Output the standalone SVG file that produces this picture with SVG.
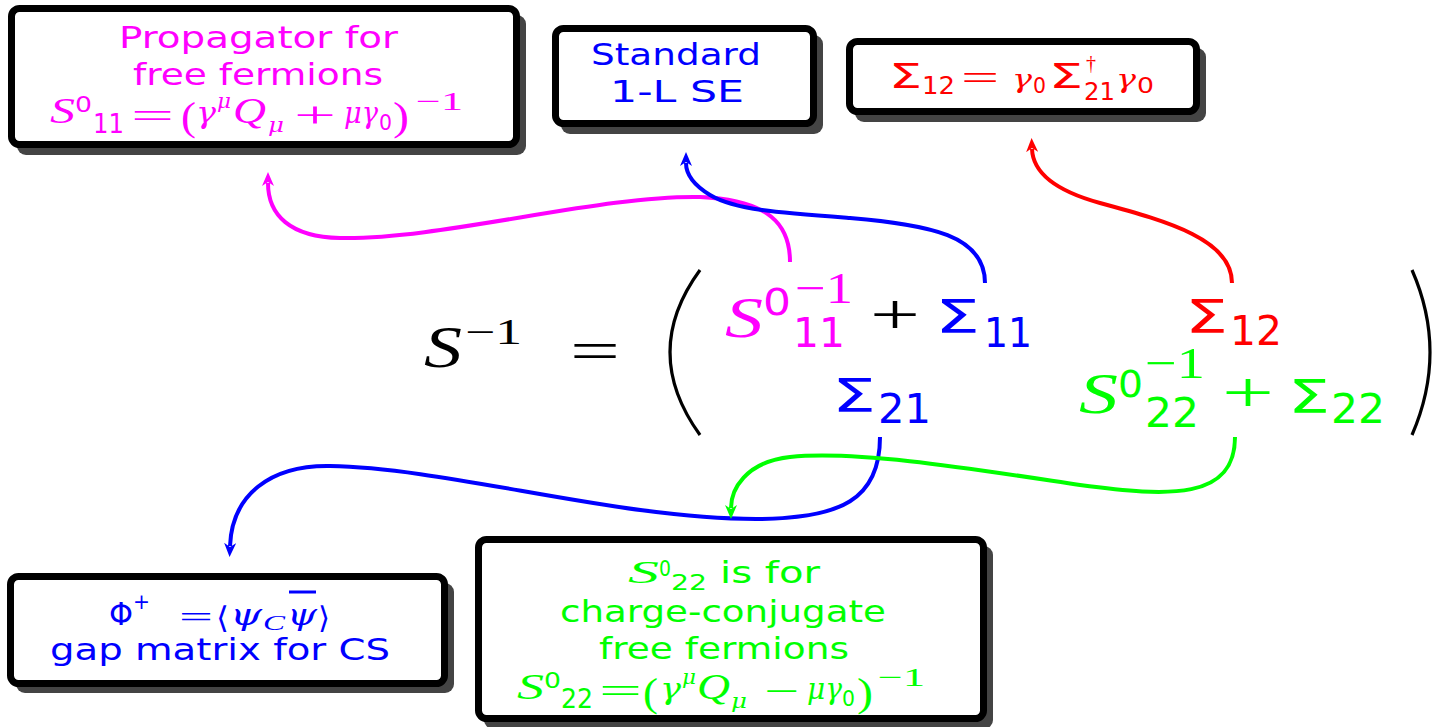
<svg xmlns="http://www.w3.org/2000/svg" width="1433" height="727" viewBox="0 0 1433 727">
<style>
.s{font-family:"DejaVu Sans","Liberation Sans",sans-serif}
.i{font-family:"Liberation Serif",serif;font-style:italic}
.gi{font-family:"DejaVu Serif","Liberation Serif",serif;font-style:italic}
.r{font-family:"Liberation Serif",serif}
.m{fill:#ff00ff}.b{fill:#0000ff}.rd{fill:#ff0000}.g{fill:#00ff00}.k{fill:#000}
.box{fill:#fff;stroke:#000;stroke-width:7}
.sh{fill:#444}
.c{fill:none;stroke-width:4}
.par{fill:none;stroke:#000;stroke-width:3.2}
</style>
<defs>
<marker id="am" viewBox="0 0 14 12" refX="3" refY="6" markerWidth="14" markerHeight="12" markerUnits="userSpaceOnUse" orient="auto"><path d="M0,0 L14,6 L0,12 L4,6 Z" fill="#ff00ff"/></marker>
<marker id="ab" viewBox="0 0 14 12" refX="3" refY="6" markerWidth="14" markerHeight="12" markerUnits="userSpaceOnUse" orient="auto"><path d="M0,0 L14,6 L0,12 L4,6 Z" fill="#0000ff"/></marker>
<marker id="ar" viewBox="0 0 14 12" refX="3" refY="6" markerWidth="14" markerHeight="12" markerUnits="userSpaceOnUse" orient="auto"><path d="M0,0 L14,6 L0,12 L4,6 Z" fill="#ff0000"/></marker>
<marker id="ag" viewBox="0 0 14 12" refX="3" refY="6" markerWidth="14" markerHeight="12" markerUnits="userSpaceOnUse" orient="auto"><path d="M0,0 L14,6 L0,12 L4,6 Z" fill="#00ff00"/></marker>
</defs>
<rect width="1433" height="727" fill="#fff"/>

<g id="box-propagator">
<rect class="sh" x="17" y="15" width="509" height="140" rx="9"/>
<rect class="box" x="11.5" y="8.5" width="505" height="136" rx="8"/>
<text class="s m" x="119" y="48" font-size="30" textLength="279" lengthAdjust="spacingAndGlyphs">Propagator for</text>
<text class="s m" x="133" y="85" font-size="30" textLength="250" lengthAdjust="spacingAndGlyphs">free fermions</text>
<text class="i m" x="50" y="123" font-size="36" textLength="25" lengthAdjust="spacingAndGlyphs">S</text>
<text class="s m" x="75" y="112" font-size="22" textLength="17" lengthAdjust="spacingAndGlyphs">0</text>
<text class="s m" x="93" y="133" font-size="26" textLength="31" lengthAdjust="spacingAndGlyphs">11</text>
<text class="r m" x="131" y="128" font-size="36" textLength="43" lengthAdjust="spacingAndGlyphs">=</text>
<text class="r m" x="181" y="130" font-size="40" textLength="15" lengthAdjust="spacingAndGlyphs">(</text>
<text class="gi m" x="196" y="123" font-size="30" textLength="20" lengthAdjust="spacingAndGlyphs">γ</text>
<text class="gi m" x="217" y="108" font-size="20" textLength="14" lengthAdjust="spacingAndGlyphs">μ</text>
<text class="i m" x="233" y="123" font-size="36" textLength="33" lengthAdjust="spacingAndGlyphs">Q</text>
<text class="gi m" x="268" y="132" font-size="20" textLength="16" lengthAdjust="spacingAndGlyphs">μ</text>
<text class="r m" x="294" y="127" font-size="36" textLength="42" lengthAdjust="spacingAndGlyphs">+</text>
<text class="gi m" x="344" y="123" font-size="30" textLength="34" lengthAdjust="spacingAndGlyphs">μγ</text>
<text class="s m" x="379" y="130" font-size="22" textLength="13" lengthAdjust="spacingAndGlyphs">0</text>
<text class="r m" x="393" y="130" font-size="40" textLength="16" lengthAdjust="spacingAndGlyphs">)</text>
<text class="r m" x="416" y="110" font-size="26" textLength="47" lengthAdjust="spacingAndGlyphs">−1</text>
</g>

<g id="box-standard">
<rect class="sh" x="561" y="35" width="262" height="99" rx="9"/>
<rect class="box" x="555.5" y="28.5" width="258" height="95" rx="8"/>
<text class="s b" x="591" y="65" font-size="31" textLength="170" lengthAdjust="spacingAndGlyphs">Standard</text>
<text class="s b" x="610" y="102" font-size="31" textLength="134" lengthAdjust="spacingAndGlyphs">1-L SE</text>
</g>

<g id="box-sigma12">
<rect class="sh" x="855" y="48" width="351" height="74" rx="9"/>
<rect class="box" x="849.5" y="41.5" width="347" height="70" rx="8"/>
<text class="s rd" x="889" y="88" font-size="34" textLength="33" lengthAdjust="spacingAndGlyphs">Σ</text>
<text class="s rd" x="922" y="94" font-size="24" textLength="33" lengthAdjust="spacingAndGlyphs">12</text>
<text class="r rd" x="961" y="90" font-size="36" textLength="38" lengthAdjust="spacingAndGlyphs">=</text>
<text class="gi rd" x="1012" y="88" font-size="26" textLength="20" lengthAdjust="spacingAndGlyphs">γ</text>
<text class="s rd" x="1033" y="93" font-size="22" textLength="13" lengthAdjust="spacingAndGlyphs">0</text>
<text class="s rd" x="1049" y="88" font-size="34" textLength="34" lengthAdjust="spacingAndGlyphs">Σ</text>
<text class="r rd" x="1086" y="70" font-size="20" textLength="10" lengthAdjust="spacingAndGlyphs">†</text>
<text class="s rd" x="1084" y="100" font-size="24" textLength="31" lengthAdjust="spacingAndGlyphs">21</text>
<text class="gi rd" x="1116" y="88" font-size="26" textLength="20" lengthAdjust="spacingAndGlyphs">γ</text>
<text class="s rd" x="1137" y="93" font-size="22" textLength="17" lengthAdjust="spacingAndGlyphs">0</text>
</g>

<g id="box-gap">
<rect class="sh" x="16" y="583" width="438" height="110" rx="9"/>
<rect class="box" x="10.5" y="576.5" width="434" height="107" rx="8"/>
<text class="s b" x="109" y="625" font-size="32" textLength="24" lengthAdjust="spacingAndGlyphs">Φ</text>
<text class="s b" x="133" y="609" font-size="22" textLength="17" lengthAdjust="spacingAndGlyphs">+</text>
<text class="r b" x="179" y="627" font-size="30" textLength="34" lengthAdjust="spacingAndGlyphs">=</text>
<text class="s b" x="216" y="628" font-size="30" textLength="13" lengthAdjust="spacingAndGlyphs">⟨</text>
<text class="gi b" x="230" y="625" font-size="30" textLength="32" lengthAdjust="spacingAndGlyphs">ψ</text>
<text class="i b" x="263" y="630" font-size="20" textLength="22" lengthAdjust="spacingAndGlyphs">C</text>
<text class="gi b" x="287" y="625" font-size="30" textLength="30" lengthAdjust="spacingAndGlyphs">ψ</text>
<line x1="289" y1="592" x2="316" y2="592" stroke="#0000ff" stroke-width="3"/>
<text class="s b" x="318" y="628" font-size="30" textLength="12" lengthAdjust="spacingAndGlyphs">⟩</text>
<text class="s b" x="50" y="660" font-size="31" textLength="340" lengthAdjust="spacingAndGlyphs">gap matrix for CS</text>
</g>

<g id="box-charge">
<rect class="sh" x="484" y="546" width="509" height="183" rx="9"/>
<rect class="box" x="478.5" y="539.5" width="505" height="179" rx="8"/>
<text class="i g" x="628" y="583" font-size="32" textLength="31" lengthAdjust="spacingAndGlyphs">S</text>
<text class="s g" x="659" y="576" font-size="21" textLength="12" lengthAdjust="spacingAndGlyphs">0</text>
<text class="s g" x="671" y="590" font-size="22" textLength="36" lengthAdjust="spacingAndGlyphs">22</text>
<text class="s g" x="720" y="583" font-size="31" textLength="100" lengthAdjust="spacingAndGlyphs">is for</text>
<text class="s g" x="560" y="622" font-size="31" textLength="326" lengthAdjust="spacingAndGlyphs">charge-conjugate</text>
<text class="s g" x="599" y="659" font-size="31" textLength="250" lengthAdjust="spacingAndGlyphs">free fermions</text>
<text class="i g" x="517" y="699" font-size="36" textLength="27" lengthAdjust="spacingAndGlyphs">S</text>
<text class="s g" x="544" y="688" font-size="22" textLength="17" lengthAdjust="spacingAndGlyphs">0</text>
<text class="s g" x="561" y="708" font-size="26" textLength="32" lengthAdjust="spacingAndGlyphs">22</text>
<text class="r g" x="599" y="703" font-size="36" textLength="43" lengthAdjust="spacingAndGlyphs">=</text>
<text class="r g" x="643" y="706" font-size="40" textLength="15" lengthAdjust="spacingAndGlyphs">(</text>
<text class="gi g" x="660" y="699" font-size="30" textLength="21" lengthAdjust="spacingAndGlyphs">γ</text>
<text class="gi g" x="682" y="684" font-size="20" textLength="14" lengthAdjust="spacingAndGlyphs">μ</text>
<text class="i g" x="697" y="699" font-size="36" textLength="33" lengthAdjust="spacingAndGlyphs">Q</text>
<text class="gi g" x="731" y="708" font-size="20" textLength="16" lengthAdjust="spacingAndGlyphs">μ</text>
<text class="r g" x="764" y="703" font-size="36" textLength="35" lengthAdjust="spacingAndGlyphs">−</text>
<text class="gi g" x="807" y="699" font-size="30" textLength="35" lengthAdjust="spacingAndGlyphs">μγ</text>
<text class="s g" x="842" y="706" font-size="22" textLength="13" lengthAdjust="spacingAndGlyphs">0</text>
<text class="r g" x="857" y="706" font-size="40" textLength="16" lengthAdjust="spacingAndGlyphs">)</text>
<text class="r g" x="878" y="686" font-size="26" textLength="47" lengthAdjust="spacingAndGlyphs">−1</text>
</g>

<g id="equation">
<text class="i k" x="424" y="367" font-size="60" textLength="38" lengthAdjust="spacingAndGlyphs">S</text>
<text class="r k" x="465" y="344" font-size="36" textLength="57" lengthAdjust="spacingAndGlyphs">−1</text>
<text class="r k" x="570" y="370" font-size="56" textLength="50" lengthAdjust="spacingAndGlyphs">=</text>
<path class="par" d="M700,270 Q640,352 700,435"/>
<path class="par" d="M1412,270 Q1448,352 1412,435"/>
<text class="i m" x="725" y="337" font-size="58" textLength="38" lengthAdjust="spacingAndGlyphs">S</text>
<text class="s m" x="763" y="315" font-size="38" textLength="28" lengthAdjust="spacingAndGlyphs">0</text>
<text class="r m" x="795" y="303" font-size="44" textLength="58" lengthAdjust="spacingAndGlyphs">−1</text>
<text class="s m" x="793" y="347" font-size="40" textLength="52" lengthAdjust="spacingAndGlyphs">11</text>
<text class="r k" x="870" y="334" font-size="56" textLength="50" lengthAdjust="spacingAndGlyphs">+</text>
<text class="s b" x="935" y="333" font-size="46" textLength="45" lengthAdjust="spacingAndGlyphs">Σ</text>
<text class="s b" x="984" y="347" font-size="40" textLength="48" lengthAdjust="spacingAndGlyphs">11</text>
<text class="s rd" x="1185" y="333" font-size="46" textLength="43" lengthAdjust="spacingAndGlyphs">Σ</text>
<text class="s rd" x="1230" y="345" font-size="40" textLength="52" lengthAdjust="spacingAndGlyphs">12</text>
<text class="s b" x="832" y="412" font-size="46" textLength="44" lengthAdjust="spacingAndGlyphs">Σ</text>
<text class="s b" x="878" y="423" font-size="40" textLength="53" lengthAdjust="spacingAndGlyphs">21</text>
<text class="i g" x="1079" y="413" font-size="58" textLength="39" lengthAdjust="spacingAndGlyphs">S</text>
<text class="s g" x="1118" y="397" font-size="38" textLength="25" lengthAdjust="spacingAndGlyphs">0</text>
<text class="r g" x="1145" y="378" font-size="44" textLength="60" lengthAdjust="spacingAndGlyphs">−1</text>
<text class="s g" x="1145" y="427" font-size="40" textLength="54" lengthAdjust="spacingAndGlyphs">22</text>
<text class="r g" x="1222" y="412" font-size="56" textLength="52" lengthAdjust="spacingAndGlyphs">+</text>
<text class="s g" x="1288" y="413" font-size="46" textLength="42" lengthAdjust="spacingAndGlyphs">Σ</text>
<text class="s g" x="1331" y="423" font-size="40" textLength="54" lengthAdjust="spacingAndGlyphs">22</text>
</g>

<g id="connectors">
<path class="c" stroke="#ff00ff" marker-end="url(#am)" d="M790,262 C790,225 770,200 700,197 C600,195 440,240 340,238 C290,237 268,215 268,183"/>
<path class="c" stroke="#0000ff" marker-end="url(#ab)" d="M985,283 C985,235 930,225 850,218 C780,213 735,210 710,195 C692,184 686,172 686,163"/>
<path class="c" stroke="#ff0000" marker-end="url(#ar)" d="M1232,283 C1232,240 1170,222 1100,203 C1060,192 1033,175 1032,149"/>
<path class="c" stroke="#0000ff" marker-end="url(#ab)" d="M880,437 C880,500 840,518 760,519 C620,520 450,468 330,466 C270,465 232,495 230,546"/>
<path class="c" stroke="#00ff00" marker-end="url(#ag)" d="M1235,437 C1235,500 1170,497 1080,485 C980,470 860,450 790,457 C745,462 731,490 731,508"/>
</g>
</svg>
